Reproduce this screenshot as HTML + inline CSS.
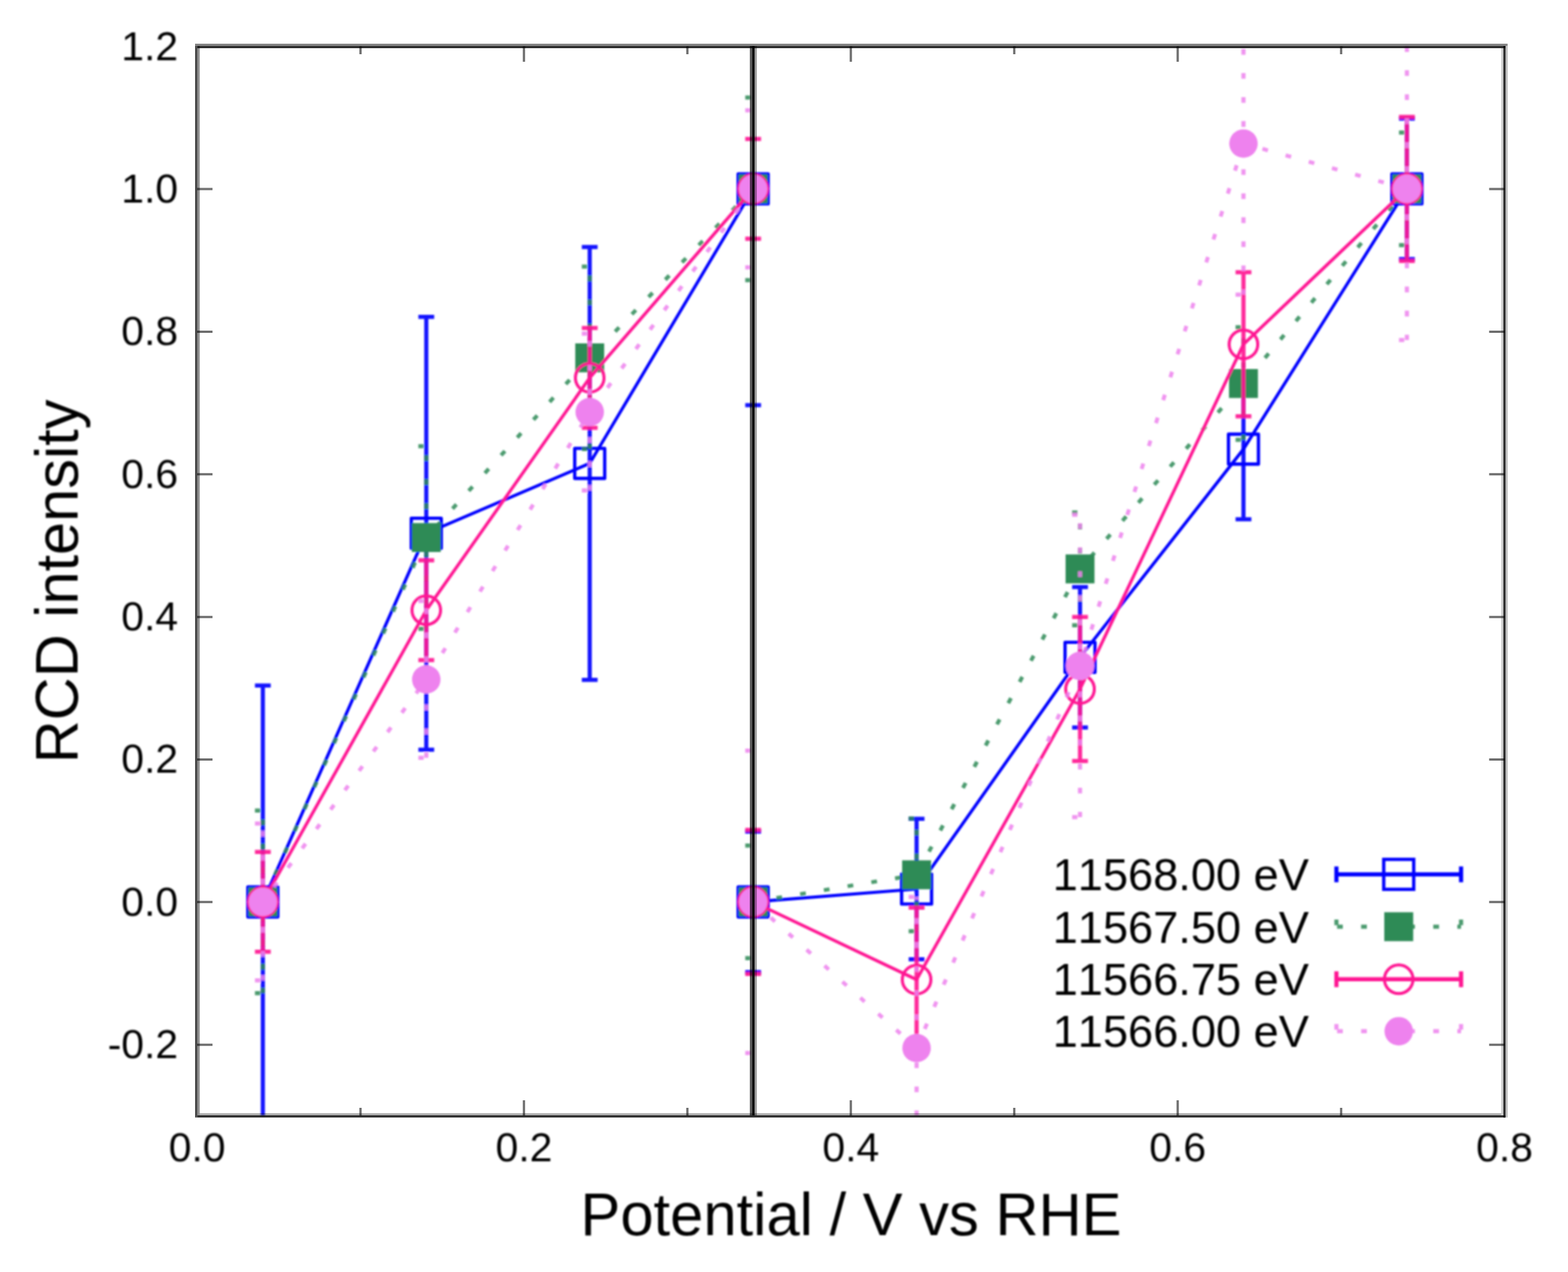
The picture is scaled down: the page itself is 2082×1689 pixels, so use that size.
<!DOCTYPE html>
<html lang="en"><head><meta charset="utf-8"><title>RCD intensity vs Potential</title>
<style>html,body{margin:0;padding:0;background:#fff}body{width:2082px;height:1689px;overflow:hidden}svg{display:block}text{font-family:"Liberation Sans",Arial,Helvetica,sans-serif;fill:#000;font-kerning:none}</style>
</head><body>
<svg width="2082" height="1689" viewBox="0 0 2082 1689">
<defs><filter id="soft" x="0" y="0" width="2082" height="1689" filterUnits="userSpaceOnUse"><feGaussianBlur stdDeviation="1.1"/></filter>
<filter id="crisp" x="0" y="0" width="2082" height="1689" filterUnits="userSpaceOnUse"><feGaussianBlur stdDeviation="0.55"/></filter>
<filter id="txt" x="0" y="0" width="2082" height="1689" filterUnits="userSpaceOnUse"><feGaussianBlur stdDeviation="0.85"/></filter>
<clipPath id="plot"><rect x="261.7" y="61.4" width="1736.1" height="1420.2"/></clipPath></defs>
<rect width="2082" height="1689" fill="#fff"/>
<g filter="url(#soft)">
<g clip-path="url(#plot)" fill="none" stroke-linejoin="round">
<path d="M349 1481.6V910.21M338.5 910.21H359.5" fill="none" stroke="#0000ff" stroke-width="5.5" stroke-opacity="0.92"/>
<path d="M566.02 995.42V420.71M555.52 420.71H576.52M555.52 995.42H576.52" fill="none" stroke="#0000ff" stroke-width="5.5" stroke-opacity="0.92"/>
<path d="M783.03 902.63V327.92M772.53 327.92H793.53M772.53 902.63H793.53" fill="none" stroke="#0000ff" stroke-width="5.5" stroke-opacity="0.92"/>
<path d="M989.54 538.11H1010.54" fill="none" stroke="#0000ff" stroke-width="5.5" stroke-opacity="0.92"/>
<polyline points="349,1197.56 566.02,708.06 783.03,615.28 1000.04,250.76" stroke="#0000ff" stroke-width="4.2"/>
<rect x="329.11" y="1177.66" width="39.8" height="39.8" fill="none" stroke="#0000ff" stroke-width="4.4"/>
<rect x="546.12" y="688.16" width="39.8" height="39.8" fill="none" stroke="#0000ff" stroke-width="4.4"/>
<rect x="763.13" y="595.38" width="39.8" height="39.8" fill="none" stroke="#0000ff" stroke-width="4.4"/>
<rect x="980.14" y="230.86" width="39.8" height="39.8" fill="none" stroke="#0000ff" stroke-width="4.4"/>
<path d="M989.54 1104.3H1010.54M989.54 1290.82H1010.54" fill="none" stroke="#0000ff" stroke-width="5.5" stroke-opacity="0.92"/>
<path d="M1217.05 1273.78V1087.26M1206.55 1087.26H1227.55M1206.55 1273.78H1227.55" fill="none" stroke="#0000ff" stroke-width="5.5" stroke-opacity="0.92"/>
<path d="M1434.07 966.07V779.55M1423.57 779.55H1444.57M1423.57 966.07H1444.57" fill="none" stroke="#0000ff" stroke-width="5.5" stroke-opacity="0.92"/>
<path d="M1651.08 689.6V503.08M1640.58 503.08H1661.58M1640.58 689.6H1661.58" fill="none" stroke="#0000ff" stroke-width="5.5" stroke-opacity="0.92"/>
<path d="M1868.09 344.02V157.5M1857.59 157.5H1878.59M1857.59 344.02H1878.59" fill="none" stroke="#0000ff" stroke-width="5.5" stroke-opacity="0.92"/>
<polyline points="1000.04,1197.56 1217.05,1180.52 1434.07,872.81 1651.08,596.34 1868.09,250.76" stroke="#0000ff" stroke-width="4.2"/>
<rect x="980.14" y="1177.66" width="39.8" height="39.8" fill="none" stroke="#0000ff" stroke-width="4.4"/>
<rect x="1197.15" y="1160.62" width="39.8" height="39.8" fill="none" stroke="#0000ff" stroke-width="4.4"/>
<rect x="1414.17" y="852.91" width="39.8" height="39.8" fill="none" stroke="#0000ff" stroke-width="4.4"/>
<rect x="1631.18" y="576.44" width="39.8" height="39.8" fill="none" stroke="#0000ff" stroke-width="4.4"/>
<rect x="1848.19" y="230.86" width="39.8" height="39.8" fill="none" stroke="#0000ff" stroke-width="4.4"/>
<path d="M349 1318.75V1076.37M338.5 1076.37H359.5M338.5 1318.75H359.5" fill="none" stroke="#2e8b57" stroke-width="5.5" stroke-dasharray="7.6 24.33" stroke-dashoffset="0.6" stroke-opacity="0.86"/>
<path d="M566.02 834.94V592.55M555.52 592.55H576.52M555.52 834.94H576.52" fill="none" stroke="#2e8b57" stroke-width="5.5" stroke-dasharray="7.6 24.33" stroke-dashoffset="0.6" stroke-opacity="0.86"/>
<path d="M783.03 596.34V353.96M772.53 353.96H793.53M772.53 596.34H793.53" fill="none" stroke="#2e8b57" stroke-width="5.5" stroke-dasharray="7.6 24.33" stroke-dashoffset="0.6" stroke-opacity="0.86"/>
<path d="M989.54 129.57H1010.54M989.54 371.95H1010.54" fill="none" stroke="#2e8b57" stroke-width="5.5" stroke-dasharray="7.6 24.33" stroke-dashoffset="0.6" stroke-opacity="0.86"/>
<polyline points="349,1197.56 566.02,713.75 783.03,475.15 1000.04,250.76" stroke="#2e8b57" stroke-width="5.2" stroke-dasharray="7.6 24.33" stroke-dashoffset="24.6" stroke-opacity="0.86"/>
<rect x="329.81" y="1178.36" width="38.4" height="38.4" fill="#2e8b57"/>
<rect x="546.82" y="694.55" width="38.4" height="38.4" fill="#2e8b57"/>
<rect x="763.83" y="455.95" width="38.4" height="38.4" fill="#2e8b57"/>
<rect x="980.84" y="231.56" width="38.4" height="38.4" fill="#2e8b57"/>
<path d="M989.54 1122.76H1010.54M989.54 1272.36H1010.54" fill="none" stroke="#2e8b57" stroke-width="5.5" stroke-dasharray="7.6 24.33" stroke-dashoffset="0.6" stroke-opacity="0.86"/>
<path d="M1217.05 1236.38V1086.78M1206.55 1086.78H1227.55M1206.55 1236.38H1227.55" fill="none" stroke="#2e8b57" stroke-width="5.5" stroke-dasharray="7.6 24.33" stroke-dashoffset="0.6" stroke-opacity="0.86"/>
<path d="M1434.07 830.2V680.61M1423.57 680.61H1444.57M1423.57 830.2H1444.57" fill="none" stroke="#2e8b57" stroke-width="5.5" stroke-dasharray="7.6 24.33" stroke-dashoffset="0.6" stroke-opacity="0.86"/>
<path d="M1651.08 584.03V434.44M1640.58 434.44H1661.58M1640.58 584.03H1661.58" fill="none" stroke="#2e8b57" stroke-width="5.5" stroke-dasharray="7.6 24.33" stroke-dashoffset="0.6" stroke-opacity="0.86"/>
<path d="M1868.09 325.56V175.96M1857.59 175.96H1878.59M1857.59 325.56H1878.59" fill="none" stroke="#2e8b57" stroke-width="5.5" stroke-dasharray="7.6 24.33" stroke-dashoffset="0.6" stroke-opacity="0.86"/>
<polyline points="1000.04,1197.56 1217.05,1161.58 1434.07,755.4 1651.08,509.24 1868.09,250.76" stroke="#2e8b57" stroke-width="5.2" stroke-dasharray="7.6 24.33" stroke-dashoffset="0.6" stroke-opacity="0.86"/>
<rect x="980.84" y="1178.36" width="38.4" height="38.4" fill="#2e8b57"/>
<rect x="1197.85" y="1142.38" width="38.4" height="38.4" fill="#2e8b57"/>
<rect x="1414.87" y="736.2" width="38.4" height="38.4" fill="#2e8b57"/>
<rect x="1631.88" y="490.04" width="38.4" height="38.4" fill="#2e8b57"/>
<rect x="1848.89" y="231.56" width="38.4" height="38.4" fill="#2e8b57"/>
<path d="M349 1263.84V1131.28M338.5 1131.28H359.5M338.5 1263.84H359.5" fill="none" stroke="#ff1493" stroke-width="5.5" stroke-opacity="0.92"/>
<path d="M566.02 876.59V744.04M555.52 744.04H576.52M555.52 876.59H576.52" fill="none" stroke="#ff1493" stroke-width="5.5" stroke-opacity="0.92"/>
<path d="M783.03 567.94V435.39M772.53 435.39H793.53M772.53 567.94H793.53" fill="none" stroke="#ff1493" stroke-width="5.5" stroke-opacity="0.92"/>
<path d="M989.54 184.48H1010.54M989.54 317.04H1010.54" fill="none" stroke="#ff1493" stroke-width="5.5" stroke-opacity="0.92"/>
<polyline points="349,1197.56 566.02,810.32 783.03,501.66 1000.04,250.76" stroke="#ff1493" stroke-width="4.2"/>
<circle cx="349" cy="1197.56" r="19" fill="none" stroke="#ff1493" stroke-width="4"/>
<circle cx="566.02" cy="810.32" r="19" fill="none" stroke="#ff1493" stroke-width="4"/>
<circle cx="783.03" cy="501.66" r="19" fill="none" stroke="#ff1493" stroke-width="4"/>
<circle cx="1000.04" cy="250.76" r="19" fill="none" stroke="#ff1493" stroke-width="4"/>
<path d="M989.54 1101.93H1010.54M989.54 1293.19H1010.54" fill="none" stroke="#ff1493" stroke-width="5.5" stroke-opacity="0.92"/>
<path d="M1217.05 1396.39V1205.13M1206.55 1205.13H1227.55M1206.55 1396.39H1227.55" fill="none" stroke="#ff1493" stroke-width="5.5" stroke-opacity="0.92"/>
<path d="M1434.07 1010.57V819.31M1423.57 819.31H1444.57M1423.57 1010.57H1444.57" fill="none" stroke="#ff1493" stroke-width="5.5" stroke-opacity="0.92"/>
<path d="M1651.08 552.79V361.54M1640.58 361.54H1661.58M1640.58 552.79H1661.58" fill="none" stroke="#ff1493" stroke-width="5.5" stroke-opacity="0.92"/>
<path d="M1868.09 346.39V155.13M1857.59 155.13H1878.59M1857.59 346.39H1878.59" fill="none" stroke="#ff1493" stroke-width="5.5" stroke-opacity="0.92"/>
<polyline points="1000.04,1197.56 1217.05,1300.76 1434.07,914.94 1651.08,457.16 1868.09,250.76" stroke="#ff1493" stroke-width="4.2"/>
<circle cx="1000.04" cy="1197.56" r="19" fill="none" stroke="#ff1493" stroke-width="4"/>
<circle cx="1217.05" cy="1300.76" r="19" fill="none" stroke="#ff1493" stroke-width="4"/>
<circle cx="1434.07" cy="914.94" r="19" fill="none" stroke="#ff1493" stroke-width="4"/>
<circle cx="1651.08" cy="457.16" r="19" fill="none" stroke="#ff1493" stroke-width="4"/>
<circle cx="1868.09" cy="250.76" r="19" fill="none" stroke="#ff1493" stroke-width="4"/>
<path d="M349 1301.71V1093.41M338.5 1093.41H359.5M338.5 1301.71H359.5" fill="none" stroke="#ee82ee" stroke-width="5.5" stroke-dasharray="7.6 24.33" stroke-dashoffset="0.6" stroke-opacity="0.86"/>
<path d="M566.02 1006.31V798.01M555.52 798.01H576.52M555.52 1006.31H576.52" fill="none" stroke="#ee82ee" stroke-width="5.5" stroke-dasharray="7.6 24.33" stroke-dashoffset="0.6" stroke-opacity="0.86"/>
<path d="M783.03 651.26V442.96M772.53 442.96H793.53M772.53 651.26H793.53" fill="none" stroke="#ee82ee" stroke-width="5.5" stroke-dasharray="7.6 24.33" stroke-dashoffset="0.6" stroke-opacity="0.86"/>
<path d="M989.54 146.61H1010.54M989.54 354.91H1010.54" fill="none" stroke="#ee82ee" stroke-width="5.5" stroke-dasharray="7.6 24.33" stroke-dashoffset="0.6" stroke-opacity="0.86"/>
<polyline points="349,1197.56 566.02,902.16 783.03,547.11 1000.04,250.76" stroke="#ee82ee" stroke-width="5.2" stroke-dasharray="7.6 24.33" stroke-dashoffset="7.6" stroke-opacity="0.86"/>
<circle cx="349" cy="1197.56" r="18.9" fill="#ee82ee"/>
<circle cx="566.02" cy="902.16" r="18.9" fill="#ee82ee"/>
<circle cx="783.03" cy="547.11" r="18.9" fill="#ee82ee"/>
<circle cx="1000.04" cy="250.76" r="18.9" fill="#ee82ee"/>
<path d="M989.54 996.84H1010.54M989.54 1398.28H1010.54" fill="none" stroke="#ee82ee" stroke-width="5.5" stroke-dasharray="7.6 24.33" stroke-dashoffset="0.6" stroke-opacity="0.86"/>
<path d="M1217.05 1481.6V1190.93M1206.55 1190.93H1227.55" fill="none" stroke="#ee82ee" stroke-width="5.5" stroke-dasharray="7.6 24.33" stroke-dashoffset="0.6" stroke-opacity="0.86"/>
<path d="M1434.07 1084.89V683.45M1423.57 683.45H1444.57M1423.57 1084.89H1444.57" fill="none" stroke="#ee82ee" stroke-width="5.5" stroke-dasharray="7.6 24.33" stroke-dashoffset="0.6" stroke-opacity="0.86"/>
<path d="M1651.08 391.36V61.4M1640.58 391.36H1661.58" fill="none" stroke="#ee82ee" stroke-width="5.5" stroke-dasharray="7.6 24.33" stroke-dashoffset="0.6" stroke-opacity="0.86"/>
<path d="M1868.09 451.48V61.4M1857.59 451.48H1878.59" fill="none" stroke="#ee82ee" stroke-width="5.5" stroke-dasharray="7.6 24.33" stroke-dashoffset="0.6" stroke-opacity="0.86"/>
<polyline points="1000.04,1197.56 1217.05,1391.65 1434.07,884.17 1651.08,190.64 1868.09,250.76" stroke="#ee82ee" stroke-width="5.2" stroke-dasharray="7.6 24.33" stroke-dashoffset="0.6" stroke-opacity="0.86"/>
<circle cx="1000.04" cy="1197.56" r="18.9" fill="#ee82ee"/>
<circle cx="1217.05" cy="1391.65" r="18.9" fill="#ee82ee"/>
<circle cx="1434.07" cy="884.17" r="18.9" fill="#ee82ee"/>
<circle cx="1651.08" cy="190.64" r="18.9" fill="#ee82ee"/>
<circle cx="1868.09" cy="250.76" r="18.9" fill="#ee82ee"/>
</g>
</g>
<g filter="url(#crisp)">
<g stroke="#6e6e6e" stroke-width="3.0" fill="none">
<path d="M478.71 1481.6v-10.5 M478.71 61.4v10.5 M695.72 1481.6v-20.5 M695.72 61.4v20.5 M912.74 1481.6v-10.5 M912.74 61.4v10.5 M1129.75 1481.6v-20.5 M1129.75 61.4v20.5 M1346.76 1481.6v-10.5 M1346.76 61.4v10.5 M1563.78 1481.6v-20.5 M1563.78 61.4v20.5 M1780.79 1481.6v-10.5 M1780.79 61.4v10.5 M261.7 1387.22h20.5 M1997.8 1387.22h-20.5 M261.7 1197.86h20.5 M1997.8 1197.86h-20.5 M261.7 1008.5h20.5 M1997.8 1008.5h-20.5 M261.7 819.14h20.5 M1997.8 819.14h-20.5 M261.7 629.78h20.5 M1997.8 629.78h-20.5 M261.7 440.42h20.5 M1997.8 440.42h-20.5 M261.7 251.06h20.5 M1997.8 251.06h-20.5"/>
</g>
<rect x="995.7" y="61" width="3.1" height="1420" fill="#000" fill-opacity="0.67"/>
<rect x="998.8" y="61" width="3.1" height="1420" fill="#000"/>
<rect x="1001.9" y="61" width="2.9" height="1420" fill="#000" fill-opacity="0.4"/>
<rect x="259" y="58" width="1742.8" height="3" fill="#000" fill-opacity="0.48"/>
<rect x="262.1" y="61" width="1736.9" height="3" fill="#000" fill-opacity="0.81"/>
<rect x="259" y="61" width="3.1" height="1422.8" fill="#000" fill-opacity="0.7"/>
<rect x="262.1" y="61" width="3.1" height="1420" fill="#000" fill-opacity="0.44"/>
<rect x="265.2" y="1478.2" width="1728.1" height="2.8" fill="#000" fill-opacity="0.33"/>
<rect x="262.1" y="1481" width="1736.9" height="2.8" fill="#000" fill-opacity="0.835"/>
<rect x="1993.3" y="64" width="2.9" height="1417" fill="#000" fill-opacity="0.2"/>
<rect x="1996.2" y="61" width="2.8" height="1422.8" fill="#000" fill-opacity="0.835"/>
<rect x="1999" y="61" width="2.8" height="1422.8" fill="#000" fill-opacity="0.27"/>
</g>
<g filter="url(#soft)">
<path d="M1774.5 1161H1940M1774.5 1150.5v21M1940 1150.5v21" fill="none" stroke="#0000ff" stroke-width="5.5"/>
<rect x="1837.35" y="1141.1" width="39.8" height="39.8" fill="none" stroke="#0000ff" stroke-width="4.4"/>
<path d="M1774.5 1230.5H1940M1774.5 1220v21M1940 1220v21" fill="none" stroke="#2e8b57" stroke-width="5.5" stroke-dasharray="7.6 24.33" stroke-dashoffset="-0.9" stroke-opacity="0.86"/>
<rect x="1838.05" y="1211.3" width="38.4" height="38.4" fill="#2e8b57"/>
<path d="M1774.5 1300.3H1940M1774.5 1289.8v21M1940 1289.8v21" fill="none" stroke="#ff1493" stroke-width="5.5"/>
<circle cx="1857.25" cy="1300.3" r="19" fill="none" stroke="#ff1493" stroke-width="4"/>
<path d="M1774.5 1369.3H1940M1774.5 1358.8v21M1940 1358.8v21" fill="none" stroke="#ee82ee" stroke-width="5.5" stroke-dasharray="7.6 24.33" stroke-dashoffset="-0.9" stroke-opacity="0.86"/>
<circle cx="1857.25" cy="1369.3" r="18.9" fill="#ee82ee"/>
</g>
<g filter="url(#txt)">
<text x="1738" y="1182" font-size="60" text-anchor="end">11568.00 eV</text>
<text x="1738" y="1251.5" font-size="60" text-anchor="end">11567.50 eV</text>
<text x="1738" y="1321.3" font-size="60" text-anchor="end">11566.75 eV</text>
<text x="1738" y="1390.3" font-size="60" text-anchor="end">11566.00 eV</text>
<text x="261.7" y="1542" font-size="54.3" text-anchor="middle">0.0</text>
<text x="695.72" y="1542" font-size="54.3" text-anchor="middle">0.2</text>
<text x="1129.75" y="1542" font-size="54.3" text-anchor="middle">0.4</text>
<text x="1563.78" y="1542" font-size="54.3" text-anchor="middle">0.6</text>
<text x="1997.8" y="1542" font-size="54.3" text-anchor="middle">0.8</text>
<text x="236.5" y="1405.12" font-size="54.3" text-anchor="end">-0.2</text>
<text x="236.5" y="1215.76" font-size="54.3" text-anchor="end">0.0</text>
<text x="236.5" y="1026.4" font-size="54.3" text-anchor="end">0.2</text>
<text x="236.5" y="837.04" font-size="54.3" text-anchor="end">0.4</text>
<text x="236.5" y="647.68" font-size="54.3" text-anchor="end">0.6</text>
<text x="236.5" y="458.32" font-size="54.3" text-anchor="end">0.8</text>
<text x="236.5" y="268.96" font-size="54.3" text-anchor="end">1.0</text>
<text x="236.5" y="79.6" font-size="54.3" text-anchor="end">1.2</text>
<text x="1130" y="1640" font-size="79.3" text-anchor="middle">Potential / V vs RHE</text>
<text transform="translate(103,772) rotate(-90)" font-size="79" text-anchor="middle">RCD intensity</text>
</g>
</svg>
</body></html>
